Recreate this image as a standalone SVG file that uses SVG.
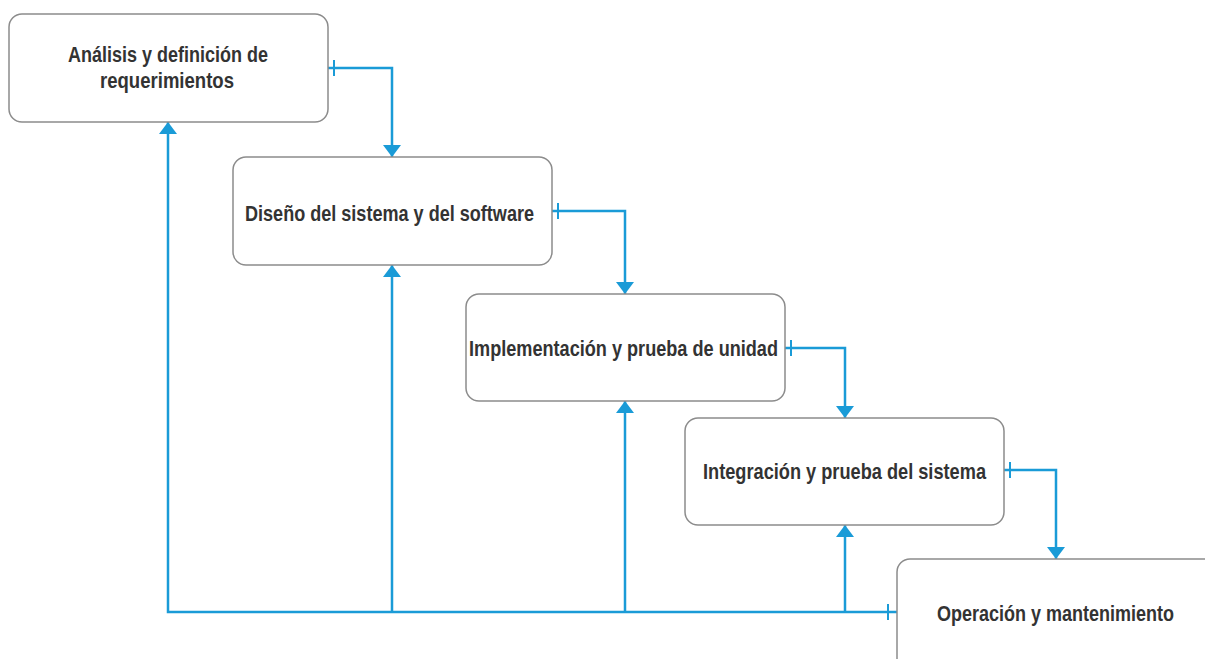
<svg xmlns="http://www.w3.org/2000/svg" width="1205" height="659" viewBox="0 0 1205 659">
  <style>
    .box { fill: #ffffff; stroke: #8c8c8c; stroke-width: 1.5; }
    .lbl { font-family: "Liberation Sans Narrow", "Liberation Sans", Arial, sans-serif; font-weight: bold; font-size: 21.5px; fill: #333333; }
    .conn { fill: none; stroke: #1a9bd7; stroke-width: 2.5; }
  </style>
  <defs>
    <marker id="arrow" markerUnits="userSpaceOnUse" markerWidth="14" markerHeight="20" refX="12" refY="10" orient="auto" viewBox="0 0 14 20">
      <path d="M0,1 L12,10 L0,19 Z" fill="#1a9bd7"/>
    </marker>
    <marker id="tick" markerUnits="userSpaceOnUse" markerWidth="10" markerHeight="16" refX="0" refY="8" orient="auto" viewBox="0 0 10 16">
      <path d="M6,0 V16" stroke="#1a9bd7" stroke-width="2" fill="none"/>
    </marker>
  </defs>

  <g id="connectors">
    <path class="conn" d="M328,68 H392 V157" marker-start="url(#tick)" marker-end="url(#arrow)"/>
    <path class="conn" d="M552,211 H625 V294" marker-start="url(#tick)" marker-end="url(#arrow)"/>
    <path class="conn" d="M785,348 H845 V418" marker-start="url(#tick)" marker-end="url(#arrow)"/>
    <path class="conn" d="M1004,470 H1056 V559" marker-start="url(#tick)" marker-end="url(#arrow)"/>
    <path class="conn" d="M897,612 H168 V122" marker-end="url(#arrow)"/>
    <path d="M888,604 V620" stroke="#1a9bd7" stroke-width="2" fill="none"/>
    <path class="conn" d="M392,612 V265" marker-end="url(#arrow)"/>
    <path class="conn" d="M625,612 V401" marker-end="url(#arrow)"/>
    <path class="conn" d="M845,612 V525" marker-end="url(#arrow)"/>
  </g>

  <g id="node1">
    <rect class="box" x="9" y="14" width="319" height="108" rx="13"/>
    <text class="lbl" x="68" y="62" textLength="200" lengthAdjust="spacingAndGlyphs">Análisis y definición de</text>
    <text class="lbl" x="100" y="88" textLength="134" lengthAdjust="spacingAndGlyphs">requerimientos</text>
  </g>
  <g id="node2">
    <rect class="box" x="233" y="157" width="319" height="108" rx="13"/>
    <text class="lbl" x="245" y="221" textLength="289" lengthAdjust="spacingAndGlyphs">Diseño del sistema y del software</text>
  </g>
  <g id="node3">
    <rect class="box" x="466" y="294" width="319" height="107" rx="13"/>
    <text class="lbl" x="469" y="356" textLength="309" lengthAdjust="spacingAndGlyphs">Implementación y prueba de unidad</text>
  </g>
  <g id="node4">
    <rect class="box" x="685" y="418" width="319" height="107" rx="13"/>
    <text class="lbl" x="703" y="479" textLength="283" lengthAdjust="spacingAndGlyphs">Integración y prueba del sistema</text>
  </g>
  <g id="node5">
    <path d="M897,659 V572 A13,13 0 0 1 910,559 H1205 V659 Z" fill="#ffffff"/>
    <path d="M897,659 V572 A13,13 0 0 1 910,559 H1205" fill="none" stroke="#8c8c8c" stroke-width="1.5"/>
    <text class="lbl" x="937" y="621" textLength="237" lengthAdjust="spacingAndGlyphs">Operación y mantenimiento</text>
  </g>
</svg>
